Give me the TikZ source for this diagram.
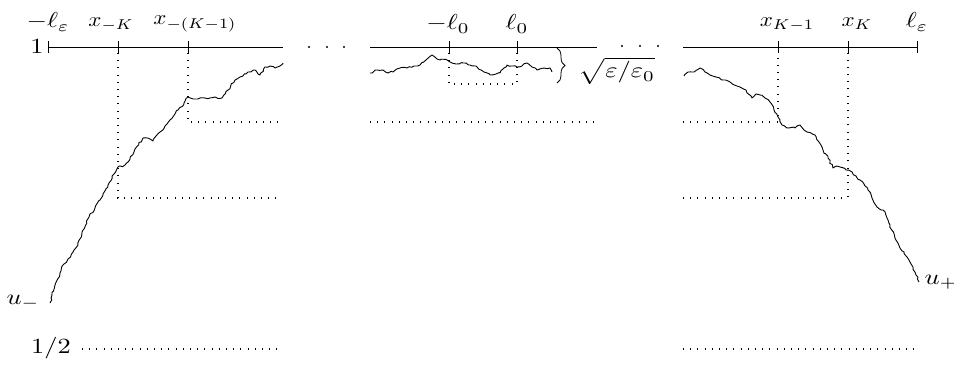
\documentclass[tikz,border=0pt]{standalone}
\usepackage{graphicx}
\usetikzlibrary{decorations.pathmorphing,decorations.pathreplacing}
\newcommand\lb[1]{\scalebox{1.32}[1.08]{$#1$}}
\newcommand\lbx[1]{\scalebox{1.15}[1.02]{$#1$}}
\begin{document}
\begin{tikzpicture}[x=0.5pt,y=-0.5pt,
  axis/.style={line width=0.5pt},
  tick/.style={line width=0.5pt},
  dotmark/.style={fill=black},
  guide/.style={line width=0.55pt,dash pattern=on 0.5pt off 3.1pt},
  path/.style={line width=0.45pt,line join=round,decorate,decoration={random steps,segment length=1.3pt,amplitude=0.5pt}},
  lbl/.style={inner sep=0pt}]
\pgfmathsetseed{4711}
\useasboundingbox (0,0) rectangle (954,365);
% axes
\coordinate (La) at (48,47); \coordinate (Lb) at (283,47);
\coordinate (Ma) at (370,47); \coordinate (Mb) at (597,47);
\coordinate (Ra) at (683,47); \coordinate (Rb) at (917,47);
\draw[axis] (La) -- (Lb);
\draw[axis] (Ma) -- (Mb);
\draw[axis] (Ra) -- (Rb);
\foreach \x in {48,118,188,449,517,778,848,917}
  \draw[tick] (\x,41) -- (\x,53);
% dots
\foreach \x in {309,327,344} \fill[dotmark] (\x,47) circle (0.6pt);
\foreach \x in {622,640,658} \fill[dotmark] (\x,46) circle (0.6pt);
% labels
\node[lbl] (lme) at (48,22) {\lb{-\ell_\varepsilon}};
\node[lbl] (xmK) at (111,24) {\lbx{x_{-K}}};
\node[lbl] (xmK1) at (195,24) {\lbx{x_{-(K-1)}}};
\node[lbl] (one) at (37,47) {\lb{1}};
\node[lbl] (ml0) at (448,24) {\lb{-\ell_0}};
\node[lbl] (l0) at (517,24) {\lb{\ell_0}};
\node[lbl] (xK1) at (787,24) {\lbx{x_{K-1}}};
\node[lbl] (xK) at (857,24) {\lbx{x_K}};
\node[lbl] (le) at (917,22) {\lb{\ell_\varepsilon}};
\node[lbl] (um) at (23,302) {\lb{u_-}};
\node[lbl] (half) at (51,348) {\lb{1/2}};
\node[lbl] (up) at (941,282) {\lb{u_+}};
\node[lbl] (sq) at (617,71) {\lb{\sqrt{\varepsilon/\varepsilon_0}}};
% brace
\coordinate (b1) at (557,48); \coordinate (b2) at (557,83);
\draw[decorate,decoration={brace,amplitude=4pt}] (b1) -- (b2);
% guides
\draw[guide] (118,53) -- (118,198) -- (280,198);
\draw[guide] (188,53) -- (188,122) -- (280,122);
\draw[guide] (370,122) -- (597,122);
\draw[guide] (449,53) -- (449,84) -- (517,84) -- (517,53);
\draw[guide] (683,122) -- (778,122) -- (778,53);
\draw[guide] (683,198) -- (848,198) -- (848,53);
\draw[guide] (82,349) -- (282,349);
\draw[guide] (683,349) -- (914,349);
% curves
\draw[path] plot coordinates {(50,303) (55,285) (60,273) (64,264) (68,259) (73,252) (78,245) (83,230) (89,217) (95,208) (100,200) (108,185) (114,174) (118,167) (125,165) (134,152) (143,138) (148,138) (153,141) (156,136) (160,132) (165,126) (170,120) (178,110) (184,103) (188,97) (195,99) (205,98) (215,97) (222,98) (228,90) (235,80) (240,77) (248,72) (255,70) (260,75) (265,67) (270,66) (275,68) (280,66) (283,63)};
\draw[path] plot coordinates {(370,73) (377,70) (383,70) (388,73) (393,72) (400,68) (407,68) (414,66) (420,65) (426,60) (432,55) (437,59) (440,60) (447,60) (450,62) (456,64) (463,63) (470,65) (477,67) (484,72) (490,75) (496,74) (500,73) (504,68) (507,65) (512,66) (517,67) (522,66) (527,63) (532,67) (537,70) (544,68) (550,68) (552,72)};
\draw[path] plot coordinates {(684,76) (688,72) (694,72) (700,68) (705,72) (710,75) (716,77) (723,80) (730,82) (740,87) (746,90) (752,98) (756,94) (760,95) (765,98) (770,102) (774,110) (778,117) (782,125) (788,128) (795,128) (800,125) (804,130) (807,132) (811,133) (815,135) (819,142) (823,150) (828,158) (833,168) (837,166) (840,167) (846,170) (852,172) (856,176) (860,180) (864,184) (868,190) (872,198) (877,207) (883,210) (887,218) (890,225) (895,238) (900,248) (904,252) (907,257) (910,262) (913,267) (916,275) (919,282)};
\end{tikzpicture}
\end{document}
